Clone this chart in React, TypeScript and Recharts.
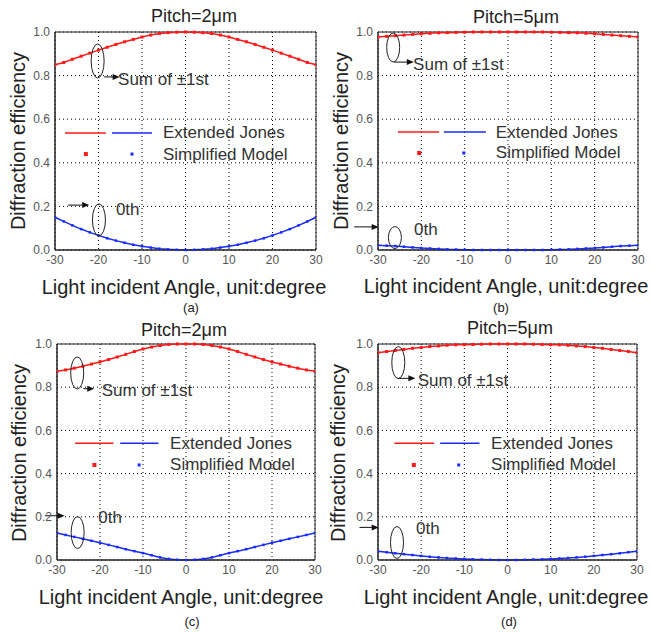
import React from 'react'
import { LineChart, Line, XAxis, YAxis, CartesianGrid, ReferenceArea, ReferenceLine, ReferenceDot } from 'recharts'

// incident angle, degrees
const angles = [-30, -28, -26, -24, -22, -20, -18, -16, -14, -12, -10, -8, -6, -4, -2, 0, 2, 4, 6, 8, 10, 12, 14, 16, 18, 20, 22, 24, 26, 28, 30]

// (a) pitch 2um
const sumA = [0.850, 0.860, 0.875, 0.889, 0.903, 0.917, 0.930, 0.943, 0.955, 0.966, 0.977, 0.986, 0.993, 0.997, 0.999, 1.000, 0.999, 0.997, 0.993, 0.986, 0.977, 0.966, 0.955, 0.943, 0.930, 0.917, 0.903, 0.889, 0.875, 0.860, 0.850]
const zeroA = [0.150, 0.131, 0.113, 0.096, 0.081, 0.067, 0.054, 0.043, 0.033, 0.024, 0.017, 0.011, 0.006, 0.003, 0.001, 0.000, 0.001, 0.003, 0.006, 0.011, 0.017, 0.024, 0.033, 0.043, 0.054, 0.067, 0.081, 0.096, 0.113, 0.131, 0.150]

// (b) pitch 5um
const sumB = [0.977, 0.980, 0.983, 0.986, 0.989, 0.992, 0.994, 0.996, 0.997, 0.998, 0.999, 1.000, 1.000, 1.000, 1.000, 1.000, 1.000, 1.000, 1.000, 1.000, 0.999, 0.998, 0.997, 0.996, 0.994, 0.992, 0.989, 0.986, 0.983, 0.980, 0.977]
const zeroB = [0.022, 0.020, 0.018, 0.015, 0.012, 0.009, 0.007, 0.005, 0.003, 0.002, 0.001, 0.000, 0.000, 0.000, 0.000, 0.000, 0.000, 0.000, 0.000, 0.000, 0.001, 0.002, 0.003, 0.005, 0.007, 0.009, 0.012, 0.015, 0.018, 0.020, 0.022]

// (c) pitch 2um
const sumC = [0.874, 0.880, 0.888, 0.897, 0.907, 0.917, 0.928, 0.940, 0.952, 0.965, 0.977, 0.986, 0.993, 0.998, 1.000, 1.000, 1.000, 0.998, 0.993, 0.986, 0.977, 0.965, 0.952, 0.940, 0.928, 0.917, 0.907, 0.897, 0.888, 0.880, 0.874]
const zeroC = [0.125, 0.116, 0.107, 0.098, 0.089, 0.080, 0.070, 0.060, 0.050, 0.041, 0.032, 0.022, 0.012, 0.005, 0.001, 0.000, 0.001, 0.005, 0.012, 0.022, 0.032, 0.041, 0.050, 0.060, 0.070, 0.080, 0.089, 0.098, 0.107, 0.116, 0.125]

// (d) pitch 5um
const sumD = [0.960, 0.965, 0.970, 0.975, 0.980, 0.984, 0.988, 0.991, 0.994, 0.996, 0.997, 0.998, 0.999, 1.000, 1.000, 1.000, 1.000, 1.000, 0.999, 0.998, 0.997, 0.996, 0.994, 0.991, 0.988, 0.984, 0.980, 0.975, 0.970, 0.965, 0.960]
const zeroD = [0.040, 0.036, 0.031, 0.027, 0.023, 0.019, 0.015, 0.012, 0.009, 0.007, 0.005, 0.003, 0.002, 0.001, 0.000, 0.000, 0.000, 0.001, 0.002, 0.003, 0.005, 0.007, 0.009, 0.012, 0.015, 0.019, 0.023, 0.027, 0.031, 0.036, 0.040]

const xTicks = [-30, -20, -10, 0, 10, 20, 30]
const yTicks = [0, 0.2, 0.4, 0.6, 0.8, 1.0]

const RED = '#ff1a1a'
const BLUE = '#1a2bff'
const INK = '#333'

const panels = [
  {
    id: 'a', left: 0, top: 0, yw: 55, right: 10, mt: 32,
    title: 'Pitch=2\u03bcm', titleX: 194, titleY: 16, yLabX: 18, xLabX: 184, xLabY: 287, capX: 191, capY: 307,
    sum: sumA, zero: zeroA,
    ellipses: [{ x: -20.2, y: 0.867, ry: 17 }, { x: -19.9, y: 0.138, ry: 16 }],
    arrows: [{ x1: -18.7, x2: -15.6, y: 0.794 }, { x1: -27, x2: -22.6, y: 0.206 }],
    notes: [{ x: -15.5, y: 0.78, text: 'Sum of \u00b11st' }, { x: -16, y: 0.188, text: '0th' }],
    legend: { red: [-27.7, -18.3], blue: [-16.9, -7.7], lineY: 0.537, textX: -5.2, redDot: -22.9, blueDot: -12.3, dotY: 0.44 },
  },
  {
    id: 'b', left: 326, top: 0, yw: 52, right: 14, mt: 32,
    title: 'Pitch=5\u03bcm', titleX: 516, titleY: 17, yLabX: 341, xLabX: 506, xLabY: 286, capX: 501, capY: 307,
    sum: sumB, zero: zeroB,
    ellipses: [{ x: -26.5, y: 0.929, ry: 14.5 }, { x: -26.1, y: 0.057, ry: 11 }],
    arrows: [{ x1: -26.3, x2: -22.2, y: 0.862 }, { x1: -35.5, x2: -30.3, y: 0.106 }],
    notes: [{ x: -21.9, y: 0.853, text: 'Sum of \u00b11st' }, { x: -21.7, y: 0.092, text: '0th' }],
    legend: { red: [-25.4, -15.9], blue: [-14.8, -5.1], lineY: 0.541, textX: -2.8, redDot: -20.5, blueDot: -10.2, dotY: 0.445 },
  },
  {
    id: 'c', left: 0, top: 310, yw: 57, right: 11, mt: 34,
    title: 'Pitch=2\u03bcm', titleX: 184, titleY: 330, yLabX: 19, xLabX: 181, xLabY: 597, capX: 192, capY: 621,
    sum: sumC, zero: zeroC,
    ellipses: [{ x: -25.3, y: 0.866, ry: 16 }, { x: -25.2, y: 0.127, ry: 16 }],
    arrows: [{ x1: -23.9, x2: -21.8, y: 0.793 }, { x1: -32.8, x2: -28.7, y: 0.205 }],
    notes: [{ x: -19.6, y: 0.787, text: 'Sum of \u00b11st' }, { x: -20.4, y: 0.199, text: '0th' }],
    legend: { red: [-25.8, -16.9], blue: [-15.3, -6.4], lineY: 0.54, textX: -3.7, redDot: -21.3, blueDot: -10.9, dotY: 0.44 },
  },
  {
    id: 'd', left: 326, top: 310, yw: 52, right: 15, mt: 34,
    title: 'Pitch=5\u03bcm', titleX: 510, titleY: 328, yLabX: 338, xLabX: 506, xLabY: 597, capX: 509, capY: 621,
    sum: sumD, zero: zeroD,
    ellipses: [{ x: -25.3, y: 0.914, ry: 16 }, { x: -25.6, y: 0.081, ry: 16 }],
    arrows: [{ x1: -25.4, x2: -21.8, y: 0.841 }, { x1: -34.3, x2: -30.3, y: 0.151 }],
    notes: [{ x: -20.8, y: 0.833, text: 'Sum of \u00b11st' }, { x: -21.2, y: 0.148, text: '0th' }],
    legend: { red: [-26.2, -17], blue: [-15.6, -6.5], lineY: 0.54, textX: -3.8, redDot: -21.7, blueDot: -11.3, dotY: 0.44 },
  },
]

const Square = (color: string, s: number) => (props: any) => {
  const { cx, cy, index } = props
  if (cx == null || cy == null) return <g key={index} />
  return <rect key={index} x={cx - s / 2} y={cy - s / 2} width={s} height={s} fill={color} />
}

const Label = ({ x, y, children, size, rotate }: any) => (
  <div
    style={{
      position: 'absolute', left: x, top: y, whiteSpace: 'nowrap', fontSize: size, color: '#222',
      transform: `translate(-50%, -50%)${rotate ? ' rotate(-90deg)' : ''}`, lineHeight: 1,
    }}
  >
    {children}
  </div>
)

function Panel({ p }: { p: (typeof panels)[number] }) {
  const data = angles.map((a, i) => ({ angle: a, sum: p.sum[i], zero: p.zero[i] }))
  const lg = p.legend
  return (
    <div style={{ position: 'absolute', left: p.left, top: p.top }}>
      <LineChart width={326} height={300} data={data} margin={{ top: p.mt, right: p.right, bottom: 0, left: 0 }}>
        <CartesianGrid stroke="#000" strokeDasharray="1 3" strokeWidth={1} />
        <XAxis
          dataKey="angle" type="number" domain={[-30, 30]} ticks={xTicks} height={50}
          tickLine={false} tickSize={3} tickMargin={2} axisLine={{ stroke: '#222' }}
          tick={{ fontSize: 12, fill: '#555' }} allowDataOverflow
        />
        <YAxis
          type="number" domain={[0, 1]} ticks={yTicks} width={p.yw}
          tickLine={false} tickSize={3} tickMargin={2} axisLine={{ stroke: '#222' }}
          tick={{ fontSize: 12, fill: '#555' }} tickFormatter={(v: number) => v.toFixed(1)}
        />
        <ReferenceArea x1={-30} x2={30} y1={0} y2={1} fill="none" stroke="#222" strokeWidth={1} />
        <Line dataKey="sum" stroke={RED} strokeWidth={1.5} dot={false} isAnimationActive={false} />
        <Line dataKey="sum" stroke="none" dot={Square(RED, 3)} isAnimationActive={false} />
        <Line dataKey="zero" stroke={BLUE} strokeWidth={1.5} dot={false} isAnimationActive={false} />
        <Line dataKey="zero" stroke="none" dot={Square(BLUE, 2.5)} isAnimationActive={false} />

        {/* legend drawn inside the plot */}
        <ReferenceLine segment={[{ x: lg.red[0], y: lg.lineY }, { x: lg.red[1], y: lg.lineY }]} stroke={RED} strokeWidth={1.5} ifOverflow="visible" />
        <ReferenceLine segment={[{ x: lg.blue[0], y: lg.lineY }, { x: lg.blue[1], y: lg.lineY }]} stroke={BLUE} strokeWidth={1.5} ifOverflow="visible" />
        <ReferenceDot x={lg.redDot} y={lg.dotY} r={2} ifOverflow="visible"
          shape={(s: any) => <rect x={s.cx - 2} y={s.cy - 2} width={4} height={4} fill={RED} />} />
        <ReferenceDot x={lg.blueDot} y={lg.dotY} r={2} ifOverflow="visible"
          shape={(s: any) => <rect x={s.cx - 1.5} y={s.cy - 1.5} width={3} height={3} fill={BLUE} />} />
        <ReferenceDot x={lg.textX} y={lg.lineY} r={0} ifOverflow="visible"
          shape={(s: any) => <text x={s.cx} y={s.cy} fontSize={17} fill={INK} dominantBaseline="central">Extended Jones</text>} />
        <ReferenceDot x={lg.textX} y={lg.dotY} r={0} ifOverflow="visible"
          shape={(s: any) => <text x={s.cx} y={s.cy} fontSize={17} fill={INK} dominantBaseline="central">Simplified Model</text>} />

        {/* annotations */}
        {p.ellipses.map((e, i) => (
          <ReferenceDot key={'e' + i} x={e.x} y={e.y} r={1} ifOverflow="visible"
            shape={(s: any) => <ellipse cx={s.cx} cy={s.cy} rx={6.5} ry={e.ry} fill="none" stroke="#222" strokeWidth={1} />} />
        ))}
        {p.arrows.map((a, i) => (
          <ReferenceLine key={'a' + i} segment={[{ x: a.x1, y: a.y }, { x: a.x2, y: a.y }]} stroke="#111" strokeWidth={1} ifOverflow="visible" />
        ))}
        {p.arrows.map((a, i) => (
          <ReferenceDot key={'h' + i} x={a.x2} y={a.y} r={1} ifOverflow="visible"
            shape={(s: any) => <polygon points={`${s.cx + 2},${s.cy} ${s.cx - 5},${s.cy - 3} ${s.cx - 5},${s.cy + 3}`} fill="#111" />} />
        ))}
        {p.notes.map((n, i) => (
          <ReferenceDot key={'n' + i} x={n.x} y={n.y} r={0} ifOverflow="visible"
            shape={(s: any) => <text x={s.cx} y={s.cy} fontSize={17} fill={INK} dominantBaseline="central">{n.text}</text>} />
        ))}
      </LineChart>
    </div>
  )
}

export default function App() {
  return (
    <div style={{ position: 'absolute', left: 0, top: 0, width: 652, height: 632, background: '#fff', fontFamily: 'Arial, "Liberation Sans", sans-serif', overflow: 'hidden' }}>
      {panels.map((p) => <Panel key={p.id} p={p} />)}
      {panels.map((p) => (
        <React.Fragment key={'t' + p.id}>
          <Label x={p.titleX} y={p.titleY} size={18}>{p.title}</Label>
          <Label x={p.yLabX} y={p.top + p.mt + 109} size={20} rotate>Diffraction efficiency</Label>
          <Label x={p.xLabX} y={p.xLabY} size={20}>Light incident Angle, unit:degree</Label>
          <Label x={p.capX} y={p.capY} size={13}>({p.id})</Label>
        </React.Fragment>
      ))}
    </div>
  )
}
